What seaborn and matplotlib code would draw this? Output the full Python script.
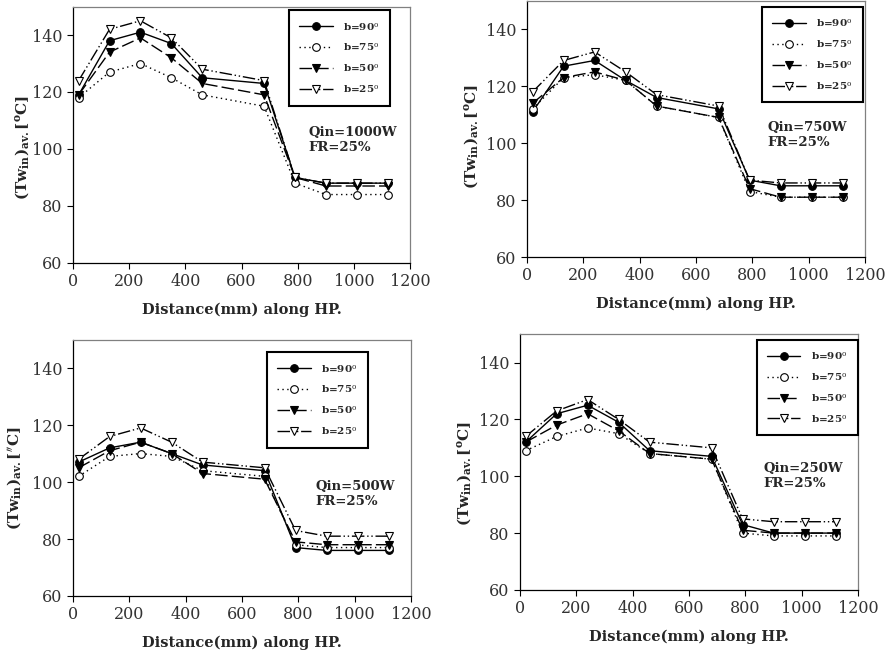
import matplotlib
matplotlib.use("Agg")
import matplotlib.pyplot as plt
import seaborn as sns
import pandas as pd

sns.set_theme(style="white")
plt.rcParams['font.family'] = ['DejaVu Serif']
plt.rcParams['mathtext.fontset'] = 'dejavuserif'

# ---------------- data ----------------
distance = [20, 130, 240, 350, 460, 680, 790, 900, 1010, 1120]
series_labels = ["b=90", "b=75", "b=50", "b=25"]

q1000_b90 = [119, 138, 141, 137, 125, 123, 90, 88, 88, 88]
q1000_b75 = [118, 127, 130, 125, 119, 115, 88, 84, 84, 84]
q1000_b50 = [119, 134, 139, 132, 123, 119, 90, 87, 87, 87]
q1000_b25 = [124, 142, 145, 139, 128, 124, 90, 88, 88, 88]

q750_b90 = [111, 127, 129, 122, 116, 112, 87, 85, 85, 85]
q750_b75 = [112, 123, 124, 122, 113, 109, 83, 81, 81, 81]
q750_b50 = [114, 123, 125, 122, 113, 109, 84, 81, 81, 81]
q750_b25 = [118, 129, 132, 125, 117, 113, 87, 86, 86, 86]

q500_b90 = [107, 112, 114, 110, 106, 104, 77, 76, 76, 76]
q500_b75 = [102, 109, 110, 109, 104, 102, 78, 77, 77, 77]
q500_b50 = [105, 111, 114, 110, 103, 101, 79, 78, 78, 78]
q500_b25 = [108, 116, 119, 114, 107, 105, 83, 81, 81, 81]

q250_b90 = [112, 122, 125, 119, 109, 107, 83, 80, 80, 80]
q250_b75 = [109, 114, 117, 115, 108, 106, 80, 79, 79, 79]
q250_b50 = [112, 118, 122, 116, 108, 106, 81, 80, 80, 80]
q250_b25 = [114, 123, 127, 120, 112, 110, 85, 84, 84, 84]

panel_titles = ["Qin=1000W\nFR=25%", "Qin=750W\nFR=25%",
                "Qin=500W\nFR=25%", "Qin=250W\nFR=25%"]
panel_data = [
    [q1000_b90, q1000_b75, q1000_b50, q1000_b25],
    [q750_b90, q750_b75, q750_b50, q750_b25],
    [q500_b90, q500_b75, q500_b50, q500_b25],
    [q250_b90, q250_b75, q250_b50, q250_b25],
]
ylabels = [r"$\mathbf{(Tw_{in})_{av.}[^{o}C]}$",
           r"$\mathbf{(Tw_{in})_{av.}[^{o}C]}$",
           r"$\mathbf{(Tw_{in})_{av.}[^{\prime\prime}C]}$",
           r"$\mathbf{(Tw_{in})_{av.}[^{o}C]}$"]
xlabel = "Distance(mm) along HP."
xticks = [0, 200, 400, 600, 800, 1000, 1200]
yticks = [60, 80, 100, 120, 140]

# ---------------- styling ----------------
styles = [
    dict(marker='o', mfc='black', linestyle='-'),
    dict(marker='o', mfc='white', linestyle=(0, (1, 2.5))),
    dict(marker='v', mfc='black', linestyle=(0, (9, 3))),
    dict(marker='v', mfc='white', linestyle=(0, (9, 2, 1, 2, 1, 2))),
]

axes_pos = [
    [0.0825, 0.598, 0.381, 0.392],
    [0.5955, 0.607, 0.382, 0.392],
    [0.0825, 0.0887, 0.382, 0.392],
    [0.5876, 0.098, 0.382, 0.391],
]
legend_anchor = [(0.64, 0.986), (0.695, 0.976), (0.574, 0.951), (0.70, 0.979)]
text_pos = [(0.697, 0.478), (0.71, 0.476), (0.716, 0.398), (0.719, 0.444)]
ylabel_pos = [(-0.125, 0.45), (-0.138, 0.47), (-0.148, 0.46), (-0.14, 0.456)]

fig = plt.figure(figsize=(8.85, 6.54), dpi=100)

for i in range(4):
    ax = fig.add_axes(axes_pos[i])
    for j, lab in enumerate(series_labels):
        df = pd.DataFrame({"x": distance, "y": panel_data[i][j]})
        st = styles[j]
        sns.lineplot(data=df, x="x", y="y", ax=ax, color='black',
                     linewidth=1.0, marker=st['marker'], markersize=5.5,
                     markerfacecolor=st['mfc'], markeredgecolor='black',
                     markeredgewidth=0.8, linestyle=st['linestyle'],
                     label=lab + r"$^{\rm o}$")
    ax.set_xlim(0, 1200)
    ax.set_ylim(60, 150)
    ax.set_xticks(xticks)
    ax.set_yticks(yticks)
    ax.tick_params(axis='both', direction='out', length=4, width=0.8,
                   labelsize=11.5, colors='black', bottom=True, left=True)
    for lbl in ax.get_xticklabels() + ax.get_yticklabels():
        lbl.set_color('#333333')
    ax.spines['left'].set_color('black')
    ax.spines['bottom'].set_color('black')
    ax.spines['top'].set_color('#808080')
    ax.spines['right'].set_color('#808080')
    for s in ax.spines.values():
        s.set_linewidth(0.9)
    ax.set_xlabel(xlabel, fontsize=10.5, fontweight='bold', labelpad=9)
    ax.set_ylabel(ylabels[i], fontsize=11)
    ax.yaxis.set_label_coords(*ylabel_pos[i])
    ax.text(text_pos[i][0], text_pos[i][1], panel_titles[i],
            transform=ax.transAxes, fontsize=9.5, fontweight='bold',
            va='center', ha='left', linespacing=1.2)
    leg = ax.legend(loc='upper left', bbox_to_anchor=legend_anchor[i],
                    fontsize=7.5, handlelength=3.2, labelspacing=0.85,
                    borderpad=1.0, handletextpad=1.0, fancybox=False,
                    borderaxespad=0, frameon=True, edgecolor='black',
                    framealpha=1)
    leg.get_frame().set_linewidth(1.5)
    for t in leg.get_texts():
        t.set_fontweight('bold')
    ax.grid(False)

fig.savefig("out.png", dpi=100, facecolor='white')
